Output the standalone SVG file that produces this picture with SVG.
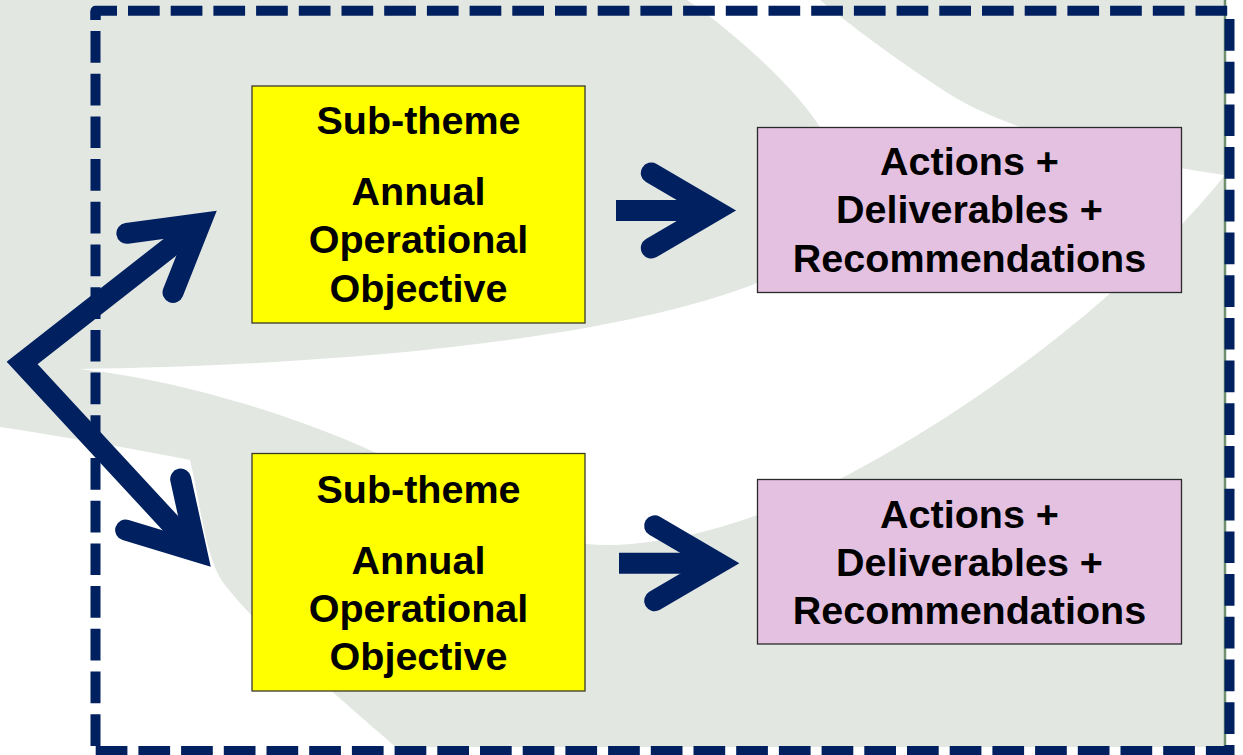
<svg xmlns="http://www.w3.org/2000/svg" xmlns:xlink="http://www.w3.org/1999/xlink" width="1243" height="755" viewBox="0 0 1243 755">
  <style>
    .bg { fill: #e2e7e2; }
    .sw { fill: #ffffff; }
    .frame { fill: none; stroke: #002060; stroke-width: 10; stroke-linejoin: round; stroke-linecap: butt; stroke-dasharray: 31.7 11; }
    .head { fill: none; stroke: #002060; stroke-width: 21; stroke-linecap: round; stroke-linejoin: miter; stroke-miterlimit: 10; }
    .shaft { fill: none; stroke: #002060; stroke-width: 21; stroke-linecap: butt; stroke-linejoin: miter; stroke-miterlimit: 10; }
    .yel { fill: #ffff00; stroke: #3a3a2a; stroke-width: 1.3; }
    .pink { fill: #e4c1e0; stroke: #2a2a2a; stroke-width: 1.3; }
    .t { font-family: "Liberation Sans", Arial, sans-serif; font-weight: bold; font-size: 39.5px; fill: #000000; text-anchor: middle; }
  </style>
  <defs>
    <path id="head" d="M-84.7,-37.5 L-20.7,0 L-84.7,37.5"/>
  </defs>

  <g id="background">
    <rect class="bg" x="0" y="0" width="1225" height="747"/>
    <path class="sw" d="M687,0 C720,22 790,80 820,127 C845,160 830,250 757,283 C600,345 300,366 80,369 C180,380 320,420 420,475 C500,525 560,553 640,543 C700,536 740,522 790,503 C900,455 1100,330 1225,175 C1120,160 1000,130 940,88 C890,55 850,25 820,0 Z"/>
    <path class="sw" d="M0,427 C60,436 140,450 190,460 C200,500 205,560 225,585 C260,630 330,690 405,755 L0,755 Z"/>
    <line x1="1225" y1="0" x2="1225" y2="747" stroke="#6f9070" stroke-width="2.5"/>
  </g>

  <g id="frame">
    <path class="frame" style="stroke-dashoffset:0.9" d="M95.5,20 V10.7 H1229.5"/>
    <path class="frame" style="stroke-dashoffset:22.4" d="M95.5,10.7 V746"/>
    <path class="frame" style="stroke-dashoffset:34.4" d="M1229.5,10.7 V755"/>
    <path class="frame" d="M95.7,751 H1227"/>
  </g>

  <g id="connectors">
    <path class="shaft" d="M200.4,223.5 L22.1,362.9 L196.6,551.5"/>
    <use xlink:href="#head" href="#head" class="head" transform="translate(216.7,210.7) rotate(-38)"/>
    <use xlink:href="#head" href="#head" class="head" transform="translate(210.7,566.7) rotate(47.2)"/>
    <path class="shaft" d="M616,210.5 H716"/>
    <use xlink:href="#head" href="#head" class="head" transform="translate(736,210.5)"/>
    <path class="shaft" d="M619,563.3 H719"/>
    <use xlink:href="#head" href="#head" class="head" transform="translate(739.3,563.3)"/>
  </g>

  <g id="subtheme1">
    <rect class="yel" x="252" y="86" width="333" height="237"/>
    <text class="t" x="418.5" y="134">Sub-theme</text>
    <text class="t" x="418.5" y="205">Annual</text>
    <text class="t" x="418.5" y="253">Operational</text>
    <text class="t" x="418.5" y="301.5">Objective</text>
  </g>

  <g id="subtheme2">
    <rect class="yel" x="252" y="453.5" width="333" height="237.5"/>
    <text class="t" x="418.5" y="502.5">Sub-theme</text>
    <text class="t" x="418.5" y="573.5">Annual</text>
    <text class="t" x="418.5" y="621.5">Operational</text>
    <text class="t" x="418.5" y="669.5">Objective</text>
  </g>

  <g id="actions1">
    <rect class="pink" x="757.5" y="127.5" width="424" height="165"/>
    <text class="t" x="969.5" y="175">Actions +</text>
    <text class="t" x="969.5" y="223.3">Deliverables +</text>
    <text class="t" x="969.5" y="271.7">Recommendations</text>
  </g>

  <g id="actions2">
    <rect class="pink" x="757.5" y="479.5" width="424" height="164.5"/>
    <text class="t" x="969.5" y="527.5">Actions +</text>
    <text class="t" x="969.5" y="575.5">Deliverables +</text>
    <text class="t" x="969.5" y="623.5">Recommendations</text>
  </g>
</svg>
